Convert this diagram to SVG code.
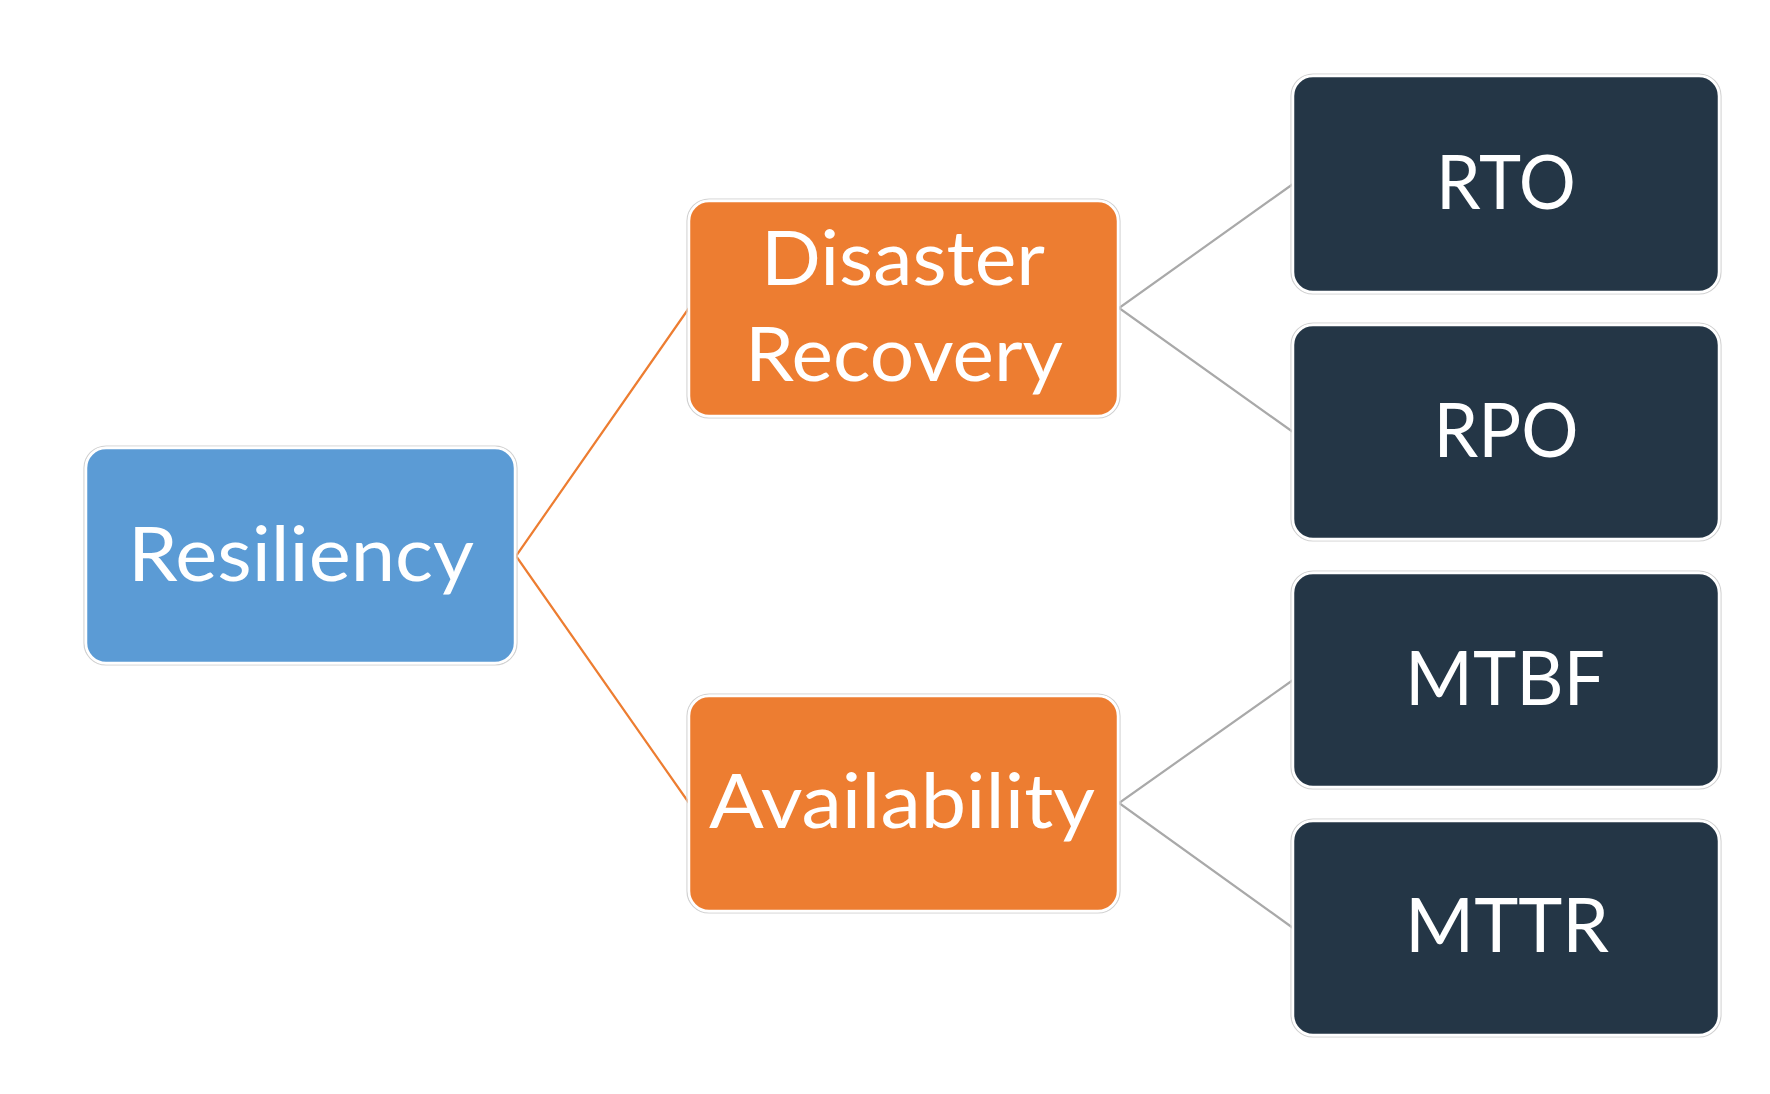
<svg xmlns="http://www.w3.org/2000/svg" width="1770" height="1094" viewBox="0 0 1770 1094">
<style>
.halo{fill:none;stroke:#d2d2d2;stroke-width:1.2}
.box{stroke:#ffffff;stroke-width:2.5}
.blue{fill:#5B9BD5}
.orange{fill:#ED7D31}
.navy{fill:#243646}
.lbl{font-family:Lato,"Open Sans","Liberation Sans",sans-serif;font-size:76px;fill:#ffffff;text-anchor:middle}
.c-or{fill:none;stroke:#ED7D31;stroke-width:2.2}
.c-gr{fill:none;stroke:#A9A9A9;stroke-width:2.2}
</style>
<rect width="1770" height="1094" fill="#ffffff"/>
<g id="connectors">
<polyline class="c-or" points="689,308 516,556 689,803"/>
<polyline class="c-gr" points="1293,184 1119,308 1293,432"/>
<polyline class="c-gr" points="1293,680 1119,803 1293,928"/>
</g>
<g id="resiliency">
<rect class="halo" x="84" y="446" width="433" height="219" rx="22"/>
<rect class="box blue" x="86" y="448" width="429" height="215" rx="20"/>
<text class="lbl" x="301" y="581" textLength="346" lengthAdjust="spacingAndGlyphs">Resiliency</text>
</g>
<g id="disaster-recovery">
<rect class="halo" x="687" y="199" width="433" height="219" rx="22"/>
<rect class="box orange" x="689" y="201" width="429" height="215" rx="20"/>
<text class="lbl" x="903" y="285" textLength="284" lengthAdjust="spacingAndGlyphs">Disaster</text>
<text class="lbl" x="904" y="381" textLength="318" lengthAdjust="spacingAndGlyphs">Recovery</text>
</g>
<g id="availability">
<rect class="halo" x="687" y="694" width="433" height="219" rx="22"/>
<rect class="box orange" x="689" y="696" width="429" height="215" rx="20"/>
<text class="lbl" x="902" y="828" textLength="386" lengthAdjust="spacingAndGlyphs">Availability</text>
</g>
<g id="rto">
<rect class="halo" x="1291" y="74" width="430" height="220" rx="22"/>
<rect class="box navy" x="1293" y="76" width="426" height="216" rx="20"/>
<text class="lbl" x="1506" y="209" textLength="140" lengthAdjust="spacingAndGlyphs">RTO</text>
</g>
<g id="rpo">
<rect class="halo" x="1291" y="323" width="430" height="218" rx="22"/>
<rect class="box navy" x="1293" y="325" width="426" height="214" rx="20"/>
<text class="lbl" x="1506" y="457" textLength="145" lengthAdjust="spacingAndGlyphs">RPO</text>
</g>
<g id="mtbf">
<rect class="halo" x="1291" y="571" width="430" height="218" rx="22"/>
<rect class="box navy" x="1293" y="573" width="426" height="214" rx="20"/>
<text class="lbl" x="1505" y="705" textLength="200" lengthAdjust="spacingAndGlyphs">MTBF</text>
</g>
<g id="mttr">
<rect class="halo" x="1291" y="819" width="430" height="218" rx="22"/>
<rect class="box navy" x="1293" y="821" width="426" height="214" rx="20"/>
<text class="lbl" x="1507" y="952" textLength="204" lengthAdjust="spacingAndGlyphs">MTTR</text>
</g>
</svg>
